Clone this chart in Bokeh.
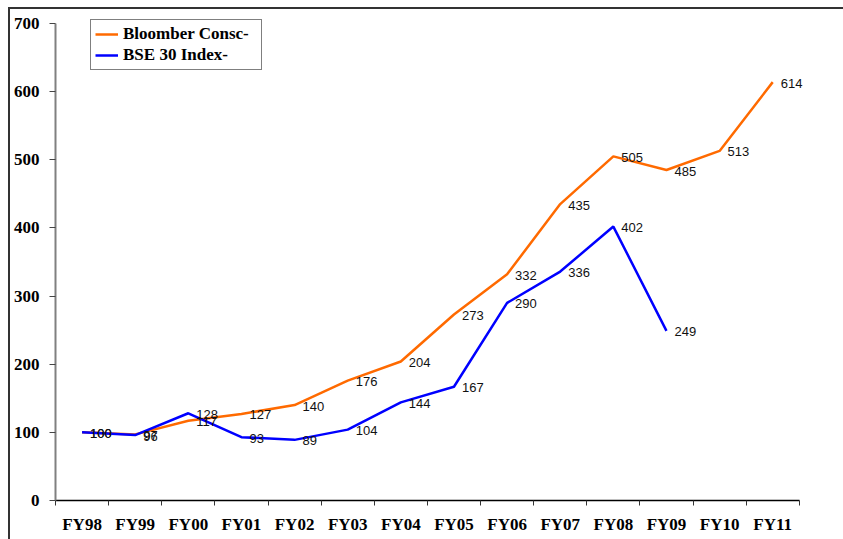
from bokeh.plotting import figure
from bokeh.models import (ColumnDataSource, FixedTicker, Range1d, Legend, LegendItem,
                          LabelSet)
from bokeh.core.properties import value
from bokeh.embed import file_html
from bokeh.resources import INLINE

categories = ["FY98", "FY99", "FY00", "FY01", "FY02", "FY03", "FY04",
              "FY05", "FY06", "FY07", "FY08", "FY09", "FY10", "FY11"]
bloomberg = [100, 97, 117, 127, 140, 176, 204, 273, 332, 435, 505, 485, 513, 614]
bse30 = [100, 96, 128, 93, 89, 104, 144, 167, 290, 336, 402, 249]
y_ticks = [0, 100, 200, 300, 400, 500, 600, 700]

ORANGE = "#FF6A00"
BLUE = "#0000FF"

xs_b = [i + 0.5 for i in range(len(bloomberg))]
xs_s = [i + 0.5 for i in range(len(bse30))]
src_b = ColumnDataSource(dict(x=xs_b, y=bloomberg, lab=[str(v) for v in bloomberg]))
src_s = ColumnDataSource(dict(x=xs_s, y=bse30, lab=[str(v) for v in bse30]))

OX, OY = 8, 7  # offset of the chart border from the window corner

# frame extends a little beyond the axes so that labels and legend are not clipped
PX_PER_UNIT_Y = 476 / 700.0
PX_PER_CAT = 740 / 14.0
TOP_PAD_PX = 11
RIGHT_PAD_PX = 39
y_end = 700 + TOP_PAD_PX / PX_PER_UNIT_Y
x_end = len(categories) + RIGHT_PAD_PX / PX_PER_CAT

p = figure(width=843 - OX, height=539 - OY, output_backend="svg", toolbar_location=None,
           x_range=Range1d(0, x_end), y_range=Range1d(0, y_end),
           min_border_left=45 - OX, min_border_right=46 - RIGHT_PAD_PX,
           min_border_top=14 - TOP_PAD_PX, min_border_bottom=41)
p.styles = {"margin-left": f"{OX}px", "margin-top": f"{OY}px",
            "border-left": "2px solid #333333", "border-top": "2px solid #333333",
            "box-sizing": "border-box"}
p.outline_line_color = None
p.xgrid.visible = False
p.ygrid.visible = False

r_b = p.line("x", "y", source=src_b, line_color=ORANGE, line_width=2.5)
r_s = p.line("x", "y", source=src_s, line_color=BLUE, line_width=2.5)

for src in (src_b, src_s):
    p.add_layout(LabelSet(x="x", y="y", text="lab", source=src, x_offset=8, y_offset=-1,
                          text_font=value("Liberation Sans"), text_font_size="13px",
                          text_color="#111111", text_baseline="middle",
                          text_align="left"))

# x axis: labels at category centers, ticks at boundaries
xa = p.xaxis[0]
xa.bounds = (0, len(categories))
xa.ticker = FixedTicker(ticks=xs_b, minor_ticks=list(range(len(categories) + 1)))
xa.major_label_overrides = {x: c for x, c in zip(xs_b, categories)}
xa.major_tick_out = 0
xa.major_tick_in = 0
xa.minor_tick_out = 5
xa.minor_tick_in = 0
xa.minor_tick_line_color = "#333333"
xa.axis_line_color = "#000000"
xa.axis_line_width = 1.5
xa.major_label_standoff = 9
xa.major_label_text_font = "Liberation Serif"
xa.major_label_text_font_style = "bold"
xa.major_label_text_font_size = "17px"
xa.major_label_text_color = "#000000"

ya = p.yaxis[0]
ya.bounds = (0, 700)
ya.ticker = FixedTicker(ticks=y_ticks, minor_ticks=[])
ya.major_tick_out = 6
ya.major_tick_in = 0
ya.major_tick_line_color = "#444444"
ya.axis_line_color = "#808080"
ya.axis_line_width = 2
ya.major_label_standoff = 10
ya.major_label_text_font = "Liberation Serif"
ya.major_label_text_font_style = "bold"
ya.major_label_text_font_size = "17px"
ya.major_label_text_color = "#000000"

legend = Legend(items=[LegendItem(label="Bloomber Consc-", renderers=[r_b]),
                       LegendItem(label="BSE 30 Index-", renderers=[r_s])],
                location=(35, 430), orientation="vertical",
                label_text_font="Liberation Serif", label_text_font_style="bold",
                label_text_font_size="17px", label_text_color="#000000",
                glyph_width=23, glyph_height=18, label_height=18, label_width=134,
                label_standoff=5, padding=4, spacing=1, margin=0,
                border_line_color="#000000", border_line_width=1,
                background_fill_color="#ffffff", background_fill_alpha=1)
p.add_layout(legend)

open("out.html", "w").write(file_html(p, INLINE))
